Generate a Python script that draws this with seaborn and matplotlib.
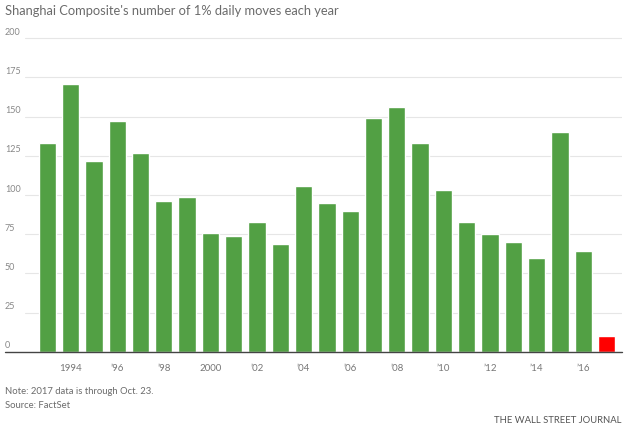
import matplotlib
matplotlib.use("Agg")
import matplotlib.pyplot as plt
import matplotlib.transforms as mtransforms
import seaborn as sns
import pandas as pd

years = [str(y) for y in range(1993, 2018)]
moves = [133, 171, 122, 147, 127, 96, 99, 76, 74, 83, 69, 106, 95,
         90, 149, 156, 133, 103, 83, 75, 70, 60, 140, 64, 10]
tick_years = list(range(1994, 2017, 2))
tick_labels = ["1994", "\u201996", "\u201998", "2000", "\u201902", "\u201904",
               "\u201906", "\u201908", "\u201910", "\u201912", "\u201914", "\u201916"]
y_ticks = [0, 25, 50, 75, 100, 125, 150, 175, 200]

green = "#52a044"
red = "#ff0000"
colors = [green] * (len(years) - 1) + [red]
gray = "#6b6b6b"

df = pd.DataFrame({"year": years, "moves": moves})

sns.set_style("white")
plt.rcParams["font.family"] = ["Lato", "DejaVu Sans"]

fig = plt.figure(figsize=(6.4, 4.31), dpi=100)
ax = fig.add_axes([25 / 640, (431 - 352.7) / 431, 597 / 640, 315 / 431])

sns.barplot(data=df, x="year", y="moves", hue="year", palette=colors,
            legend=False, width=0.74, saturation=1, ax=ax)

ax.set_xlim(-0.957, 24.665)
ax.set_ylim(0, 201)
for s in ax.spines.values():
    s.set_visible(False)

# gridlines
for v in y_ticks[1:]:
    ax.axhline(v, color="#e6e6e6", lw=0.8, zorder=0)

# baseline, extended to the left edge
base = mtransforms.blended_transform_factory(fig.transFigure, ax.transData)
ax.plot([5 / 640, 622 / 640], [0, 0], color="#444444", lw=1.0,
        transform=base, clip_on=False, zorder=5)

# y labels above gridlines, left aligned
ax.set_yticks([])
for v in y_ticks:
    ax.text(5 / 640, v + 1.5, str(v), transform=base, ha="left", va="bottom",
            fontsize=6.5, color="#888888")

# x ticks
ax.set_xticks([years.index(str(y)) for y in tick_years])
ax.set_xticklabels(tick_labels, fontsize=7, color="#777777")
ax.tick_params(axis="x", length=3, width=0.8, color="#444444", pad=5, direction="out")
ax.set_xlabel("")
ax.set_ylabel("")

fig.text(5 / 640, 1 - 11 / 431, "Shanghai Composite's number of 1% daily moves each year",
         ha="left", va="center", fontsize=9.3, color=gray)
fig.text(5 / 640, 1 - 392 / 431, "Note: 2017 data is through Oct. 23.",
         ha="left", va="center", fontsize=6.8, color=gray)
fig.text(5 / 640, 1 - 406 / 431, "Source: FactSet",
         ha="left", va="center", fontsize=6.8, color=gray)
fig.text(622 / 640, 1 - 421 / 431, "THE WALL STREET JOURNAL",
         ha="right", va="center", fontsize=6.8, color="#555555")

fig.savefig("out.png", dpi=100)
